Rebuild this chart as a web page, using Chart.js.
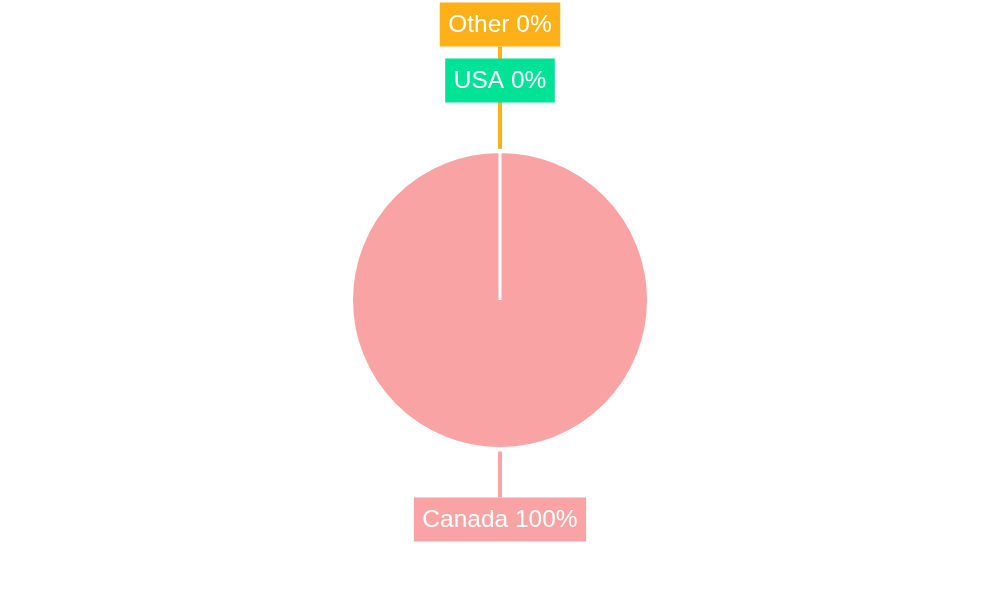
<!DOCTYPE html>
<html>
<head>
<meta charset="utf-8">
<script src="https://cdn.jsdelivr.net/npm/chart.js@4/dist/chart.umd.min.js"></script>
<style>
  html, body { margin: 0; padding: 0; background: #fff; }
  #wrap { width: 1000px; height: 600px; }
</style>
</head>
<body>
<div id="wrap"><canvas id="chart"></canvas></div>
<script>
const countries = ['Canada', 'USA', 'Other']
const shares = [100, 0, 0]
const palette = ['#F9A3A4', '#00E396', '#FEB019']

// draws the boxed labels with leader lines, stacked outward when they collide
const calloutLabels = {
  id: 'calloutLabels',
  afterDatasetsDraw(chart) {
    const ctx = chart.ctx
    const arcs = chart.getDatasetMeta(0).data
    const placed = []
    const items = []
    ctx.save()
    ctx.font = '24.5px "Liberation Sans", Arial, sans-serif'
    arcs.forEach((arc, i) => {
      const { x, y, startAngle, endAngle, outerRadius } = arc.getProps(['x', 'y', 'startAngle', 'endAngle', 'outerRadius'], true)
      const mid = (startAngle + endAngle) / 2
      const text = countries[i] + ' ' + shares[i] + '%'
      const w = ctx.measureText(text).width + 17
      const h = 44
      let dist = outerRadius + 49
      const ux = Math.cos(mid), uy = Math.sin(mid)
      let box
      for (;;) {
        const ex = x + ux * dist, ey = y + uy * dist
        const cx = ex + ux * w / 2
        const cy = ey + uy * h / 2
        box = { x: cx - w / 2, y: cy - h / 2, w, h, cx, cy }
        const hit = placed.some(b => box.x < b.x + b.w && box.x + box.w > b.x && box.y < b.y + b.h && box.y + box.h > b.y)
        if (!hit) break
        dist += 56
      }
      placed.push(box)
      items.push({ i, text, box, x, y, ux, uy, outerRadius, dist })
    })
    // leader lines first, furthest last so it sits on top
    items.slice().sort((a, b) => a.dist - b.dist).forEach(it => {
      ctx.strokeStyle = palette[it.i]
      ctx.lineWidth = 4
      ctx.beginPath()
      ctx.moveTo(it.x + it.ux * (it.outerRadius + 3), it.y + it.uy * (it.outerRadius + 3))
      ctx.lineTo(it.x + it.ux * it.dist, it.y + it.uy * it.dist)
      ctx.stroke()
    })
    items.forEach(it => {
      ctx.fillStyle = palette[it.i]
      ctx.fillRect(it.box.x, it.box.y, it.box.w, it.box.h)
      ctx.fillStyle = '#fff'
      ctx.textAlign = 'center'
      ctx.textBaseline = 'middle'
      ctx.fillText(it.text, it.box.cx, it.box.cy + 1)
    })
    ctx.restore()
  }
}

new Chart(document.getElementById('chart'), {
  type: 'pie',
  data: {
    labels: countries,
    datasets: [{
      data: shares,
      backgroundColor: palette,
      borderColor: '#fff',
      borderWidth: 3
    }]
  },
  options: {
    responsive: true,
    maintainAspectRatio: false,
    animation: false,
    layout: { padding: { top: 150, bottom: 150 } },
    plugins: {
      legend: { display: false },
      tooltip: { enabled: false }
    }
  },
  plugins: [calloutLabels]
})
</script>
</body>
</html>
